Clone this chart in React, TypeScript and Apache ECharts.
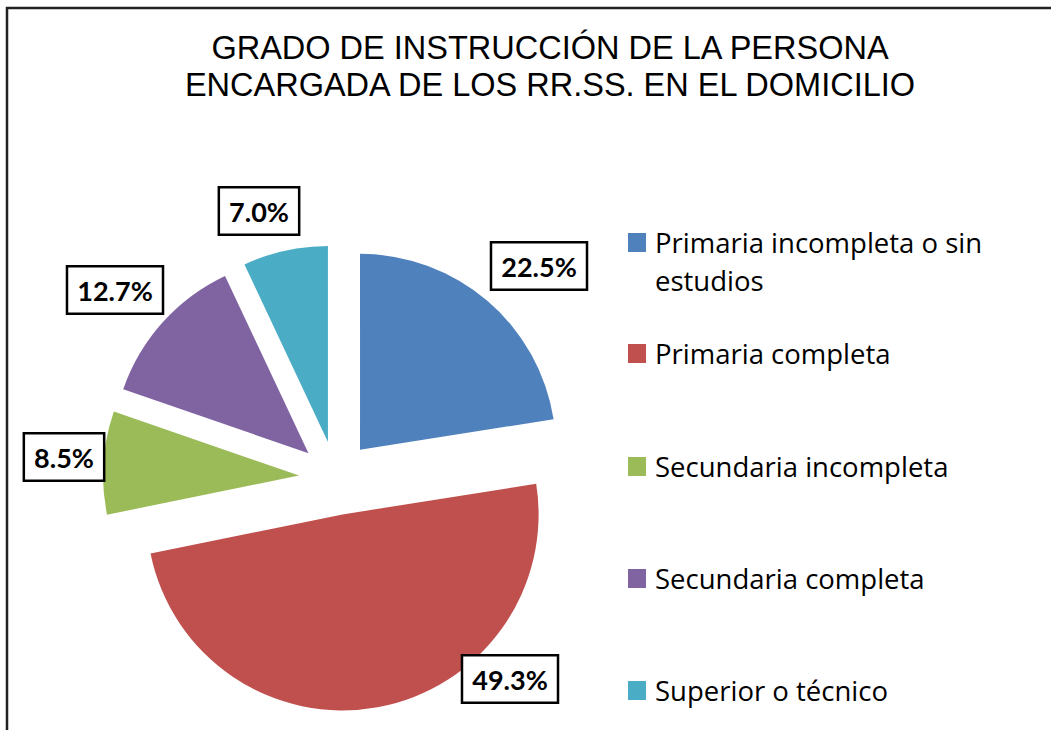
import React, { useEffect, useRef } from "react";
import * as echarts from "echarts";

const TITLE_LINES = ["GRADO DE INSTRUCCIÓN DE LA PERSONA", "ENCARGADA DE LOS RR.SS. EN EL DOMICILIO"];
const CATEGORIES = [
  "Primaria incompleta o sin estudios",
  "Primaria completa",
  "Secundaria incompleta",
  "Secundaria completa",
  "Superior o técnico",
];
const LEGEND_LINES = [
  ["Primaria incompleta o sin", "estudios"],
  ["Primaria completa"],
  ["Secundaria incompleta"],
  ["Secundaria completa"],
  ["Superior o técnico"],
];
const VALUES = [22.5, 49.3, 8.5, 12.7, 7.0];
const COLORS = ["#4F81BD", "#C0504D", "#9BBB59", "#8064A2", "#4BACC6"];

// label box centres (layout)
const LABEL_POS = [
  [539, 266],
  [510, 679],
  [64, 457],
  [115, 290],
  [259, 211],
];
const LEGEND_Y = [242, 353, 466, 578, 690];

export default function App() {
  const ref = useRef<HTMLDivElement>(null);
  useEffect(() => {
    if (!ref.current) return;
    const chart = echarts.init(ref.current, undefined, { renderer: "svg" });

    const legendGraphics: any[] = [];
    LEGEND_LINES.forEach((lines, i) => {
      legendGraphics.push({
        type: "rect",
        shape: { x: 628, y: LEGEND_Y[i] - 9, width: 18, height: 19 },
        style: { fill: COLORS[i] },
      });
      lines.forEach((ln, j) => {
        legendGraphics.push({
          type: "text",
          x: 655,
          y: LEGEND_Y[i] + j * 38,
          style: {
            text: ln,
            fill: "#000",
            font: "27.5px 'Open Sans'",
            textVerticalAlign: "middle",
            textAlign: "left",
          },
        });
      });
    });

    const labelGraphics = VALUES.map((v, i) => ({
      type: "text",
      x: LABEL_POS[i][0],
      y: LABEL_POS[i][1],
      z: 10,
      style: {
        text: v.toFixed(1) + "%",
        fill: "#000",
        font: "bold 27px Lato",
        textAlign: "center",
        textVerticalAlign: "middle",
        backgroundColor: "#fff",
        borderColor: "#000",
        borderWidth: 2.5,
        padding: [10, 9, 8, 9],
      },
    }));

    chart.setOption({
      animation: false,
      backgroundColor: "#fff",
      title: {
        text: TITLE_LINES.join("\n"),
        left: 545,
        top: 24,
        textAlign: "center",
        textStyle: {
          fontFamily: "Liberation Sans",
          fontSize: 32.5,
          fontWeight: "normal",
          color: "#000",
          lineHeight: 37,
        },
      },
      graphic: [
        {
          type: "rect",
          shape: { x: 7, y: 8, width: 1100, height: 800 },
          style: { fill: "none", stroke: "#222", lineWidth: 2.5 },
          silent: true,
        },
        ...legendGraphics,
        ...labelGraphics,
      ],
      series: [
        {
          type: "pie",
          center: [336, 478],
          radius: 196,
          startAngle: 90,
          clockwise: true,
          selectedMode: "multiple",
          selectedOffset: 37,
          data: CATEGORIES.map((name, i) => ({
            name,
            value: VALUES[i],
            selected: true,
            itemStyle: { color: COLORS[i] },
            select: { itemStyle: { color: COLORS[i] } },
          })),
          label: { show: false },
          labelLine: { show: false },
          emphasis: { disabled: true },
        },
      ],
    });
    return () => chart.dispose();
  }, []);
  return (
    <div
      ref={ref}
      style={{ position: "fixed", left: 0, top: 0, width: 1051, height: 730 }}
    />
  );
}
